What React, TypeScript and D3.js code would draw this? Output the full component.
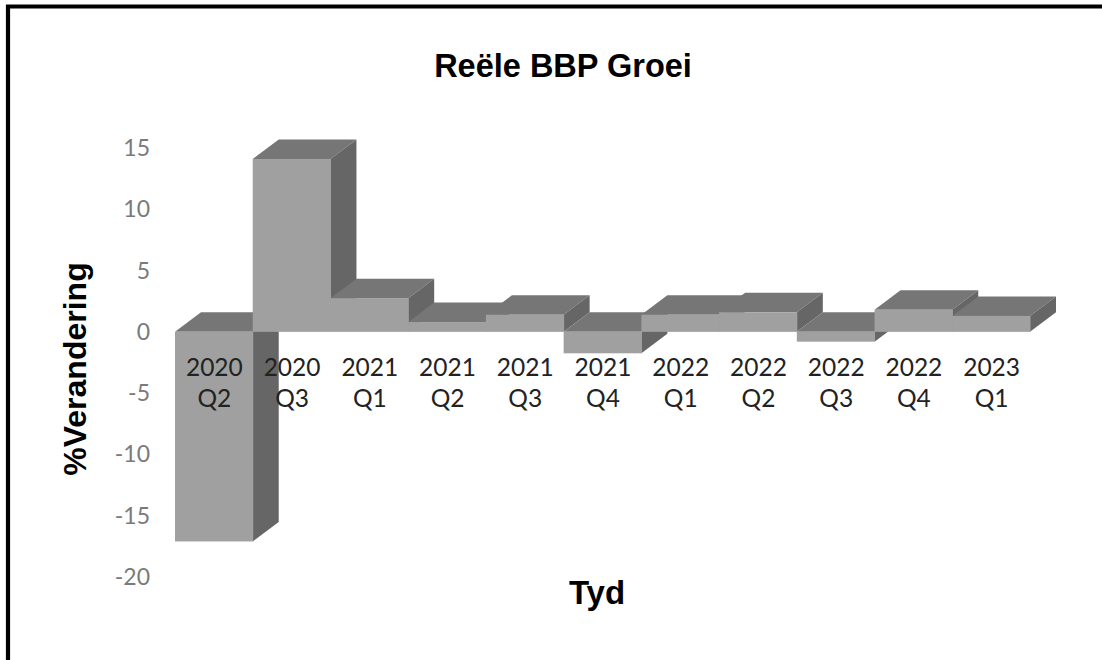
import React from "react";
import * as d3 from "d3";

const categories = ["2020 Q2","2020 Q3","2021 Q1","2021 Q2","2021 Q3","2021 Q4","2022 Q1","2022 Q2","2022 Q3","2022 Q4","2023 Q1"];
const growth = [-17.1,14.1,2.75,0.8,1.4,-1.75,1.4,1.6,-0.8,1.8,1.3];
const yTicks = [15,10,5,0,-5,-10,-15,-20];

const W = 1102, H = 660;
const dx = 26, dy = -19.5;
const x = d3.scaleBand<string>().domain(categories).range([175, 1030]).padding(0);
const y = d3.scaleLinear().domain([-20, 15]).range([577, 148]);
const pts = (p: [number, number][]) => p.map(a => a.join(",")).join(" ");

export default function App() {
  const bw = x.bandwidth();
  return (
    <svg width={W} height={H} style={{ position: "absolute", left: 0, top: 0, background: "#fff" }}>
      <path d={`M8,${H} V6.5 H${W}`} fill="none" stroke="#000" strokeWidth={4.2} />
      <text x={563} y={77} textAnchor="middle" fontFamily="Liberation Sans" fontWeight="bold" fontSize={32.5} fill="#000">Reële BBP Groei</text>
      <text transform="translate(86,369) rotate(-90)" textAnchor="middle" fontFamily="Liberation Sans" fontWeight="bold" fontSize={32} fill="#000">%Verandering</text>
      <text x={597} y={604} textAnchor="middle" fontFamily="Liberation Sans" fontWeight="bold" fontSize={33} fill="#000">Tyd</text>
      {yTicks.map(t => (
        <text key={t} x={150} y={y(t) + 8} textAnchor="end" fontFamily="Lato" fontSize={23} fill="#7a7a7a">{t}</text>
      ))}
      {categories.map((c, i) => {
        const x0 = x(c)!, x1 = x0 + bw;
        const y0 = y(0), yv = y(growth[i]);
        const top = Math.min(y0, yv), bot = Math.max(y0, yv);
        return (
          <g key={c}>
            <polygon points={pts([[x0, top], [x0 + dx, top + dy], [x1 + dx, top + dy], [x1, top]])} fill="#767676" />
            <polygon points={pts([[x1, top], [x1 + dx, top + dy], [x1 + dx, bot + dy], [x1, bot]])} fill="#666666" />
            <rect x={x0} y={top} width={bw + 0.5} height={bot - top} fill="#a0a0a0" />
          </g>
        );
      })}
      {categories.map(c => {
        const [a, b] = c.split(" ");
        const cx = x(c)! + bw / 2 + 0.5;
        return (
          <text key={c} textAnchor="middle" fontFamily="Lato" fontSize={24.5} fill="#222">
            <tspan x={cx} y={376}>{a}</tspan>
            <tspan x={cx} y={407}>{b}</tspan>
          </text>
        );
      })}
    </svg>
  );
}
